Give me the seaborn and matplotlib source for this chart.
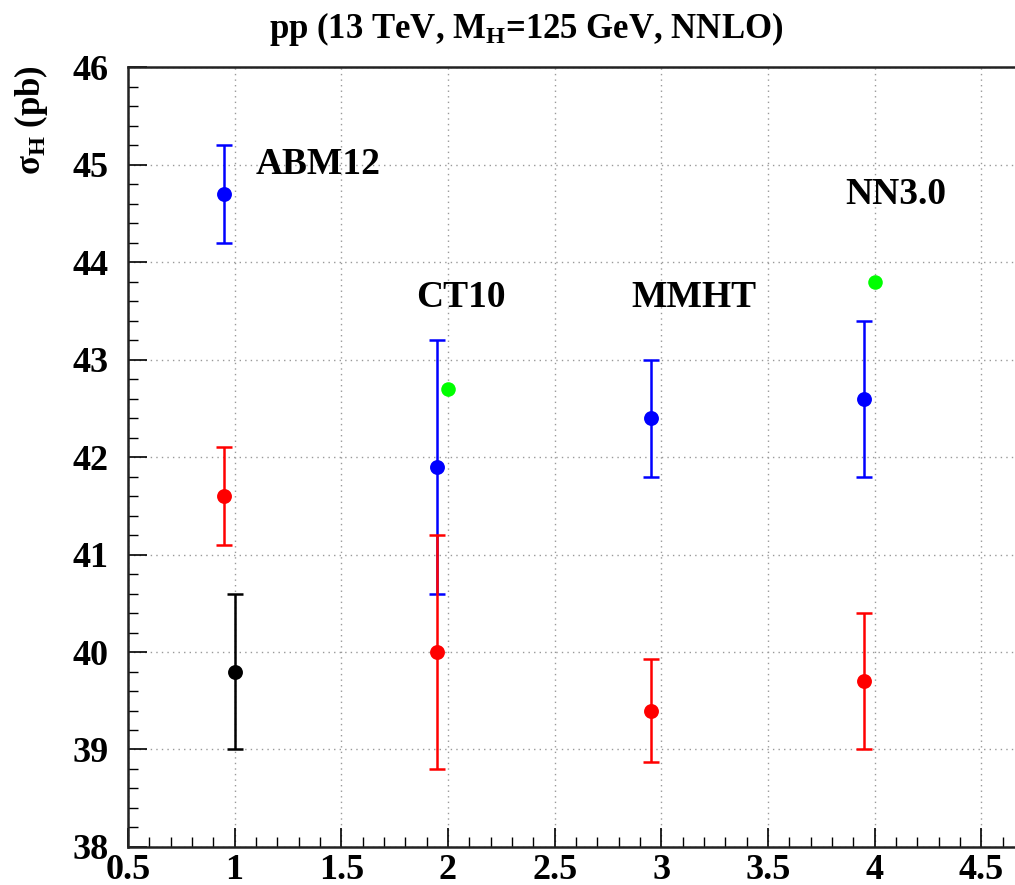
import seaborn as sns
import matplotlib
matplotlib.use("Agg")
import matplotlib.pyplot as plt
from matplotlib.ticker import MultipleLocator, FuncFormatter
import pandas as pd

# PDF sets and values (sigma_H in pb)
pdf_sets = ["ABM12", "CT10", "MMHT", "NN3.0"]
label_x = [1.1, 1.85, 2.86, 3.86]
label_y = [45.0, 43.64, 43.64, 44.69]

blue_x = [0.95, 1.95, 2.95, 3.95]
blue_y = [44.7, 41.9, 42.4, 42.6]
blue_lo = [44.2, 40.6, 41.8, 41.8]
blue_hi = [45.2, 43.2, 43.0, 43.4]

red_x = [0.95, 1.95, 2.95, 3.95]
red_y = [41.6, 40.0, 39.4, 39.7]
red_lo = [41.1, 38.8, 38.87, 39.0]
red_hi = [42.1, 41.2, 39.93, 40.4]

black_x = [1.0]
black_y = [39.8]
black_lo = [39.0]
black_hi = [40.6]

green_x = [2.0, 4.0]
green_y = [42.7, 43.8]

sns.set_theme(style="ticks")
plt.rcParams['font.family'] = ['Liberation Serif', 'DejaVu Serif']
plt.rcParams['font.weight'] = 'bold'
plt.rcParams['mathtext.fontset'] = 'custom'
plt.rcParams['mathtext.rm'] = 'Liberation Serif:bold'
plt.rcParams['mathtext.it'] = 'Liberation Serif:bold'
plt.rcParams['mathtext.bf'] = 'Liberation Serif:bold'
for k in ['text.color', 'axes.labelcolor', 'xtick.color', 'ytick.color']:
    plt.rcParams[k] = 'black'

fig = plt.figure(figsize=(10.15, 8.85), dpi=100)
ax = fig.add_axes([0.126, 0.043, 0.874, 0.881])

series = [
    (blue_x, blue_y, blue_lo, blue_hi, "#0000ff"),
    (red_x, red_y, red_lo, red_hi, "#ff0000"),
    (black_x, black_y, black_lo, black_hi, "#000000"),
]
for xs, ys, lo, hi, col in series:
    df = pd.DataFrame({"x": xs, "y": ys, "lo": lo, "hi": hi})
    ax.errorbar(df["x"], df["y"], yerr=[df["y"] - df["lo"], df["hi"] - df["y"]],
                fmt="none", ecolor=col, elinewidth=1.8, capsize=5.5, capthick=1.8, zorder=3)
    sns.scatterplot(data=df, x="x", y="y", color=col, s=115, edgecolor=col,
                    linewidth=0, ax=ax, zorder=4)

gdf = pd.DataFrame({"x": green_x, "y": green_y})
sns.scatterplot(data=gdf, x="x", y="y", color="#00ff00", s=110, linewidth=0, ax=ax, zorder=4)

for name, tx, ty in zip(pdf_sets, label_x, label_y):
    ax.text(tx, ty, name, fontsize=27, fontweight='bold', va='center', ha='left')

ax.set_xlim(0.5, 4.657)
ax.set_ylim(38, 46)
ax.xaxis.set_major_locator(MultipleLocator(0.5))
ax.xaxis.set_minor_locator(MultipleLocator(0.1))
ax.yaxis.set_major_locator(MultipleLocator(1))
ax.yaxis.set_minor_locator(MultipleLocator(0.2))
ax.xaxis.set_major_formatter(FuncFormatter(lambda v, p: f"{v:g}"))
ax.tick_params(axis='both', which='major', direction='in', length=14, width=1.2,
               labelsize=26, top=False, right=False)
ax.tick_params(axis='both', which='minor', direction='in', length=7, width=1.0,
               top=False, right=False)
ax.tick_params(axis='x', pad=5)
ax.tick_params(axis='y', pad=14)
for lab in ax.get_xticklabels() + ax.get_yticklabels():
    lab.set_fontweight('bold')

ax.grid(True, which='major', linestyle=(0, (1, 3)), color='#999999', linewidth=1.0)
for s in ["left", "bottom", "top"]:
    ax.spines[s].set_linewidth(1.8)
    ax.spines[s].set_color("#222222")
ax.spines["right"].set_visible(False)

ax.set_xlabel("")
ax.set_ylabel(r"σ$_\mathrm{H}$ (pb)", fontsize=25, fontweight='bold')
ax.yaxis.set_label_coords(-0.088, 0.932)

fig.text(0.518, 0.967, r"pp (13 TeV, M$_\mathrm{H}$=125 GeV, NNLO)", fontsize=25,
         fontweight='bold', ha='center', va='center')

fig.savefig("out.png", dpi=100)
